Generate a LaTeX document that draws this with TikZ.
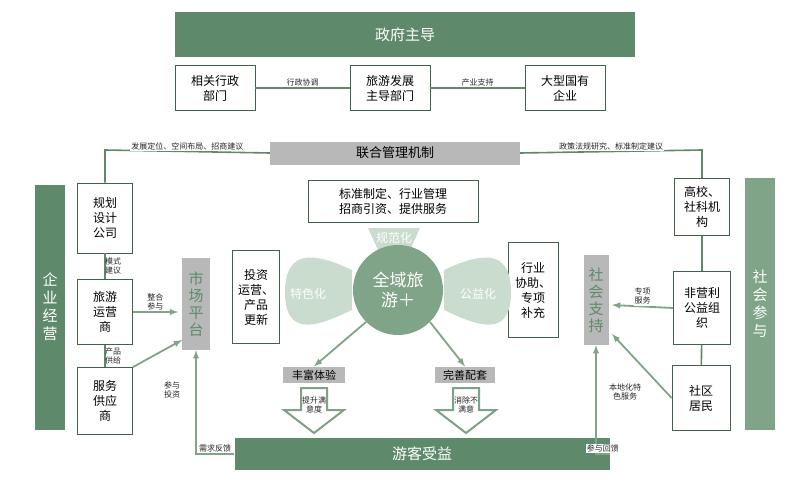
\documentclass[tikz,border=0pt]{standalone}
\usepackage{fontspec}
\newfontfamily\cjk{Noto Sans CJK SC}
\usetikzlibrary{positioning}
\definecolor{dkgreen}{HTML}{5E8A6B}
\definecolor{ltgreen}{HTML}{C9DCCD}
\definecolor{midgreen}{HTML}{7FA487}
\definecolor{bargray}{HTML}{B8B8B8}
\tikzset{
    wbox/.style={draw=dkgreen!70!black, line width=0.8pt, fill=white, align=center, font=\cjk\fontsize{12}{15}\selectfont, inner sep=2pt},
    gbar/.style={fill=dkgreen, text=white, align=center, font=\cjk\fontsize{15}{18}\selectfont},
    graybar/.style={fill=bargray, align=center, font=\cjk\fontsize{13}{15}\selectfont},
    lnk/.style={dkgreen, line width=1.6pt},
    arr/.style={midgreen, line width=1.8pt, ->, >=latex},
    tiny/.style={font=\cjk\fontsize{8}{9}\selectfont, text=black!85, align=center, fill=white, inner sep=1pt}
}
\begin{document}
\begin{tikzpicture}[x=1pt, y=-1pt]
    \useasboundingbox (0,0) rectangle (800,500);
    % government
    \node[gbar, minimum width=460pt, minimum height=45pt] (GOV) at (405,35) {政府主导};
    \node[wbox, minimum width=80pt, minimum height=45pt] (XZ) at (215,88) {相关行政\\部门};
    \node[wbox, minimum width=80pt, minimum height=45pt] (LY) at (390,88) {旅游发展\\主导部门};
    \node[wbox, minimum width=80pt, minimum height=45pt] (GQ) at (565,88) {大型国有\\企业};
    \draw[lnk] (XZ) -- (LY) node[midway, above, tiny]{行政协调};
    \draw[lnk] (LY) -- (GQ) node[midway, above, tiny]{产业支持};
    \node[graybar, minimum width=250pt, minimum height=23pt] (LH) at (395,153) {联合管理机制};
    % enterprise side
    \node[gbar, minimum width=30pt, minimum height=245pt] (QY) at (50,307) {企\\业\\经\\营};
    \node[wbox, minimum width=55pt, minimum height=70pt] (GH) at (105,218) {规划\\设计\\公司};
    \node[wbox, minimum width=55pt, minimum height=65pt] (YY) at (105,312) {旅游\\运营\\商};
    \node[wbox, minimum width=55pt, minimum height=67pt] (FW) at (105,401) {服务\\供应\\商};
    \draw[lnk] (GH) -- (YY) node[midway, tiny, fill=none, xshift=8pt]{模式\\建议};
    \draw[lnk] (YY) -- (FW) node[midway, tiny, fill=none, xshift=8pt]{产品\\供给};
    \draw[lnk] (LH.west) -- (105,150) node[midway, above, tiny]{发展定位、空间布局、招商建议} -- (GH.north);
    \node[graybar, text=dkgreen, minimum width=28pt, minimum height=92pt, font=\cjk\fontsize{15}{17}\selectfont] (SC) at (196,304) {市\\场\\平\\台};
    \draw[arr] (YY.east) -- (178,312) node[midway, above, tiny]{整合\\参与};
    \draw[arr] (FW.north east) -- (182,340);
    \node[tiny] (CT) at (172,390) {参与\\投资};
    % society side
    \node[gbar, minimum width=30pt, minimum height=252pt, fill=midgreen] (SH) at (760,304) {社\\会\\参\\与};
    \node[wbox, minimum width=55pt, minimum height=57pt] (GX) at (702,207) {高校、\\社科机\\构};
    \node[wbox, minimum width=57pt, minimum height=73pt] (FY) at (702,308) {非营利\\公益组\\织};
    \node[wbox, minimum width=58pt, minimum height=65pt] (SQ) at (701,398) {社区\\居民};
    \draw[lnk] (GX) -- (FY);
    \draw[lnk] (FY) -- (SQ);
    \draw[lnk] (LH.east) -- (702,150) node[midway, above, tiny]{政策法规研究、标准制定建议} -- (GX.north);
    \node[graybar, text=dkgreen, minimum width=25pt, minimum height=90pt, font=\cjk\fontsize{15}{17}\selectfont] (SZ) at (596,300) {社\\会\\支\\持};
    \draw[arr] (FY.west) -- (612,305) node[midway, above, tiny]{专项\\服务};
    \draw[arr] (SQ.west) -- (612,334);
    \node[tiny] (BD) at (625,392) {本地化特\\色服务};
    % tourists
    \node[gbar, minimum width=375pt, minimum height=32pt] (YK) at (422,454) {游客受益};
    \draw[arr] (YK.west) -- (196,454) node[midway, above, tiny]{需求反馈} -- (SC.south);
    \draw[arr] (YK.east) -- (596,454) node[midway, above, tiny]{参与回馈} -- (SZ.south);
    % centre
    \node[wbox, minimum width=170pt, minimum height=42pt] (BZ) at (393,201) {标准制定、行业管理\\招商引资、提供服务};
    \node[wbox, minimum width=47pt, minimum height=93pt] (TZ) at (256,297) {投资\\运营、\\产品\\更新};
    \node[wbox, minimum width=50pt, minimum height=95pt] (HY) at (533,290) {行业\\协助、\\专项\\补充};
    \fill[ltgreen] (368,228) -- (420,228) -- (410,250) -- (378,250) -- cycle;
    \fill[ltgreen] (352,270) .. controls (320,255) and (285,245) .. (285,292) .. controls (285,340) and (320,325) .. (352,310) -- cycle;
    \fill[ltgreen] (444,270) .. controls (476,255) and (511,245) .. (511,292) .. controls (511,340) and (476,325) .. (444,310) -- cycle;
    \node[text=white, font=\cjk\fontsize{12}{14}\selectfont] (GF) at (394,238) {规范化};
    \node[text=white, font=\cjk\fontsize{12}{14}\selectfont] (TS) at (308,294) {特色化};
    \node[text=white, font=\cjk\fontsize{12}{14}\selectfont] (GY) at (478,294) {公益化};
    \node[circle, fill=midgreen, minimum size=90pt, text=white, align=center, font=\cjk\fontsize{17}{20}\selectfont] (QY2) at (398,290) {全域旅\\游＋};
    \node[graybar, minimum width=62pt, minimum height=16pt, font=\cjk\fontsize{11}{13}\selectfont] (FF) at (314,375) {丰富体验};
    \node[graybar, minimum width=60pt, minimum height=16pt, font=\cjk\fontsize{11}{13}\selectfont] (WS) at (465,375) {完善配套};
    \draw[arr] (QY2.south west) -- (FF.north);
    \draw[arr] (QY2.south east) -- (WS.north);
    \foreach \cx/\lab in {314/{提升满\\意度}, 466/{消除不\\满意}} {
        \draw[dkgreen!80, line width=2pt, fill=white] (\cx-13,388) -- (\cx+13,388) -- (\cx+13,410) -- (\cx+30,410) -- (\cx,433) -- (\cx-30,410) -- (\cx-13,410) -- cycle;
        \node[tiny, fill=none] at (\cx,405) {\lab};
    }
\end{tikzpicture}
\end{document}
